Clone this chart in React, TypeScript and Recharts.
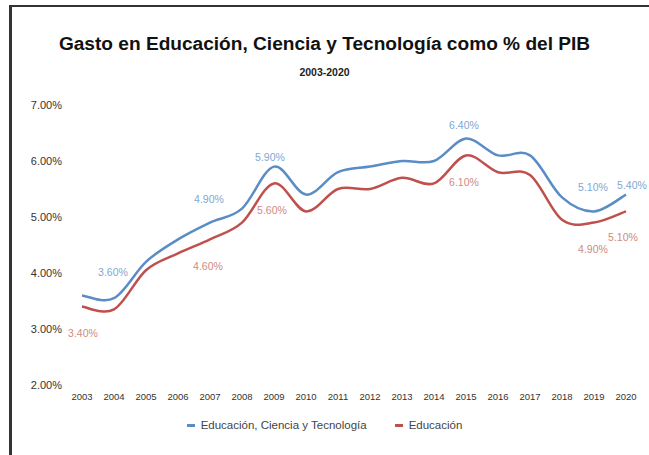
import React from 'react';
import { LineChart, Line, XAxis, YAxis, Legend, LabelList } from 'recharts';

const years = [
  '2003', '2004', '2005', '2006', '2007', '2008', '2009', '2010', '2011',
  '2012', '2013', '2014', '2015', '2016', '2017', '2018', '2019', '2020',
];
const ectValues = [3.6, 3.55, 4.2, 4.6, 4.9, 5.15, 5.9, 5.4, 5.8, 5.9, 6.0, 6.0, 6.4, 6.1, 6.1, 5.35, 5.1, 5.4];
const eduValues = [3.4, 3.35, 4.05, 4.35, 4.6, 4.9, 5.6, 5.1, 5.5, 5.5, 5.7, 5.6, 6.1, 5.8, 5.75, 4.95, 4.9, 5.1];
const ectLabels = ['', '3.60%', '', '', '4.90%', '', '5.90%', '', '', '', '', '', '6.40%', '', '', '', '5.10%', '5.40%'];
const eduLabels = ['3.40%', '', '', '', '4.60%', '', '5.60%', '', '', '', '', '', '6.10%', '', '', '', '4.90%', '5.10%'];
const yTicks = [2, 3, 4, 5, 6, 7];

const BLUE = '#5a8cc6';
const RED = '#c0504d';
const FONT = '"Liberation Sans", Arial, sans-serif';

// label placement tweaks (dx, dy from the point)
const ectOffsets: Record<number, [number, number]> = {
  1: [-1, -26], 4: [-1, -24], 6: [-4, -10], 12: [-2, -14], 16: [-1, -24], 17: [6, -10],
};
const eduOffsets: Record<number, [number, number]> = {
  0: [1, 26], 4: [-2, 27], 6: [-2, 27], 12: [-2, 27], 16: [-1, 26], 17: [-3, 26],
};

const data = years.map((year, i) => ({
  year,
  ect: ectValues[i],
  edu: eduValues[i],
}));

// smooth line through the points, like a spreadsheet "smoothed line"
const catmullRom = (context: any) => {
  let pts: [number, number][] = [];
  return {
    areaStart() {},
    areaEnd() {},
    lineStart() {
      pts = [];
    },
    point(x: number, y: number) {
      pts.push([+x, +y]);
    },
    lineEnd() {
      if (!pts.length) return;
      context.moveTo(pts[0][0], pts[0][1]);
      for (let i = 0; i < pts.length - 1; i++) {
        const p0 = pts[i - 1] || pts[i];
        const p1 = pts[i];
        const p2 = pts[i + 1];
        const p3 = pts[i + 2] || p2;
        const t = 1 / 6;
        context.bezierCurveTo(
          p1[0] + (p2[0] - p0[0]) * t,
          p1[1] + (p2[1] - p0[1]) * t,
          p2[0] - (p3[0] - p1[0]) * t,
          p2[1] - (p3[1] - p1[1]) * t,
          p2[0],
          p2[1],
        );
      }
    },
  };
};

const makeLabel = (texts: string[], offsets: Record<number, [number, number]>, color: string) =>
  (props: any) => {
    const { x, y, index } = props;
    const text = texts[index];
    if (!text) return null;
    const [dx, dy] = offsets[index] || [0, -12];
    return (
      <text
        x={x + dx}
        y={y + dy}
        fill={color}
        fontSize={10.5}
        fontFamily={FONT}
        textAnchor="middle"
        dominantBaseline="central"
      >
        {text}
      </text>
    );
  };

const LegendContent = () => (
  <div style={{ display: 'flex', justifyContent: 'center', alignItems: 'center', fontFamily: FONT, fontSize: 11.5, color: '#444' }}>
    <span style={{ display: 'inline-block', width: 8, height: 3, background: BLUE, marginRight: 6 }} />
    <span style={{ marginRight: 28 }}>Educación, Ciencia y Tecnología</span>
    <span style={{ display: 'inline-block', width: 8, height: 3, background: RED, marginRight: 6 }} />
    <span>Educación</span>
  </div>
);

export default function App() {
  return (
    <div style={{ position: 'absolute', left: 0, top: 0, width: 649, height: 455, background: '#fff', overflow: 'hidden' }}>
      <div
        style={{
          position: 'absolute', left: 9, top: 5, right: -5, bottom: -5,
          borderLeft: '3px solid #333', borderTop: '2px solid #333',
        }}
      />
      <div
        style={{
          position: 'absolute', left: 0, width: 649, top: 33, textAlign: 'center',
          fontFamily: FONT, fontWeight: 'bold', fontSize: 19.1, color: '#111',
        }}
      >
        Gasto en Educación, Ciencia y Tecnología como % del PIB
      </div>
      <div
        style={{
          position: 'absolute', left: 0, width: 649, top: 66, textAlign: 'center',
          fontFamily: FONT, fontWeight: 'bold', fontSize: 10.5, color: '#222',
        }}
      >
        2003-2020
      </div>
      <div style={{ position: 'absolute', left: 0, top: 0 }}>
        <LineChart width={649} height={455} data={data} margin={{ top: 105, right: 23, bottom: 28, left: 0 }}>
          <XAxis
            dataKey="year"
            axisLine={false}
            tickLine={false}
            interval={0}
            tick={{ fontSize: 9.5, fill: '#333', fontFamily: FONT }}
            tickMargin={2}
            height={30}
          />
          <YAxis
            domain={[2, 7]}
            ticks={yTicks}
            axisLine={false}
            tickLine={false}
            width={82}
            tickMargin={14}
            tickFormatter={(v: number) => `${v.toFixed(2)}%`}
            tick={{ fontSize: 11, fill: '#333', fontFamily: FONT }}
          />
          <Legend content={<LegendContent />} wrapperStyle={{ top: 419, left: 0, width: 649 }} />
          <Line
            type={catmullRom as any}
            dataKey="ect"
            name="Educación, Ciencia y Tecnología"
            stroke={BLUE}
            strokeWidth={2.5}
            dot={false}
            isAnimationActive={false}
          >
            <LabelList dataKey="ect" content={makeLabel(ectLabels, ectOffsets, '#7fa7d4')} />
          </Line>
          <Line
            type={catmullRom as any}
            dataKey="edu"
            name="Educación"
            stroke={RED}
            strokeWidth={2.5}
            dot={false}
            isAnimationActive={false}
          >
            <LabelList dataKey="edu" content={makeLabel(eduLabels, eduOffsets, '#cf8a82')} />
          </Line>
        </LineChart>
      </div>
    </div>
  );
}
